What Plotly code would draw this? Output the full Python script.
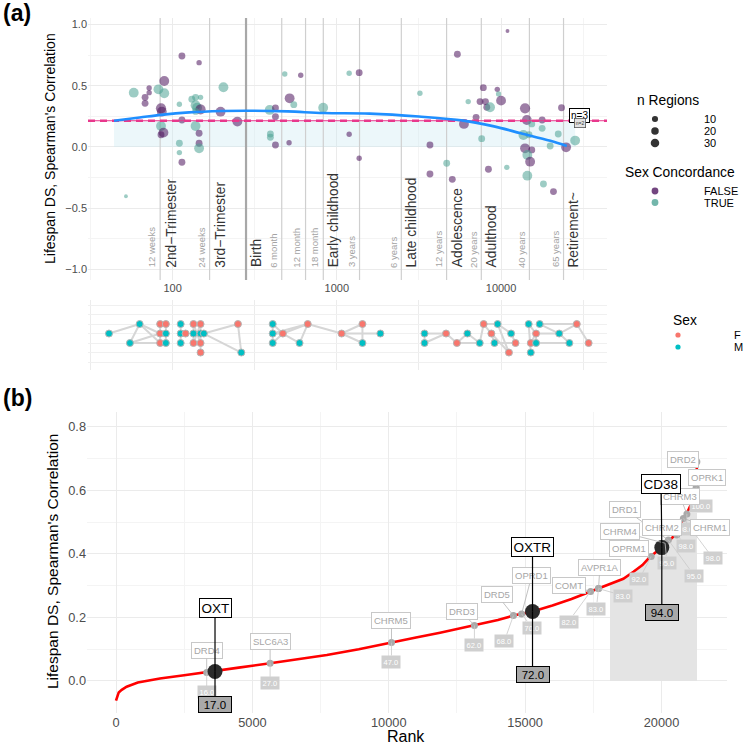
import numpy as np
import plotly.graph_objects as go

W = H = 745
def PX(x): return x / W
def PY(y): return 1 - y / H

FONT = "Liberation Sans, Arial, Helvetica, sans-serif"

# ---------------- Panel (a): lifespan scatter ----------------
age_days = [114, 145, 89, 58, 72, 72, 68, 68, 82, 89, 110, 85, 86, 85, 88, 85, 114, 110, 110, 114,
            131, 138, 148, 138, 141, 148, 138, 138, 145, 145, 145, 196, 204, 248, 52,
            482, 603, 516, 547, 390, 423, 423, 394, 394, 423, 512, 826, 1189, 1368, 1189, 1368, 3206, 3690, 3690,
            5420, 10940, 4667, 5047, 6310, 7798, 7447, 8035, 8185, 8570, 9484, 9661, 10000, 7047, 5943, 7621, 8375, 10839,
            13996, 14355, 13677, 15382, 14791, 13996, 15382, 14454, 15031, 14454, 17783, 17783, 22284, 23335, 19907,
            24889, 28249, 18113, 20845]
rho = [0.742, 0.688, 0.538, 0.443, 0.481, 0.443, 0.405, 0.356, 0.470, 0.438, 0.348, 0.315, 0.288, 0.171, 0.117,
       0.100, 0.220, 0.030, -0.046, -0.125, 0.390, 0.405, 0.405, 0.340, 0.320, 0.307, 0.290, 0.171, 0.112, 0.030,
       -0.011, 0.288, 0.487, 0.207, -0.402,
       0.595, 0.585, 0.397, 0.345, 0.302, 0.318, 0.247, 0.106, 0.079, 0.016, 0.035, 0.320, 0.601, 0.606, 0.104,
       -0.092, 0.438, 0.016, -0.220,
       0.756, 0.946, -0.133, -0.264, 0.370, 0.484, 0.370, 0.370, 0.324, 0.324, 0.470, 0.432, 0.378, 0.242, 0.188,
       0.068, -0.182, -0.166, 0.315, 0.220, 0.098, 0.188, 0.100, -0.011, -0.024, -0.065, -0.120, -0.234, 0.220,
       0.152, 0.106, 0.320, 0.008, -0.003, 0.052, -0.302, -0.364]
n_regions = [15, 6, 45, 45, 6, 6, 15, 15, 45, 45, 6, 50, 45, 45, 45, 15, 15, 15, 6, 15, 15, 15, 6, 45, 45, 50, 15,
             45, 15, 15, 45, 45, 45, 45, 1,
             6, 6, 45, 15, 45, 15, 15, 15, 15, 15, 6, 45, 6, 15, 6, 6, 6, 15, 15,
             15, 1, 15, 15, 6, 15, 15, 15, 15, 45, 6, 6, 45, 15, 45, 15, 15, 6, 50, 45, 45, 15, 15, 45, 15, 45, 45,
             45, 15, 15, 15, 15, 15, 45, 45, 15, 15]
sex_concordance = [False, False, False, True, False, False, False, False, True, True, True, False, False, True, False,
                   False, False, True, True, False, True, True, True, True, True, False, True, True, False, False,
                   True, False, True, False, True,
                   True, False, False, True, True, False, False, True, True, False, False, True, True, False, False,
                   False, True, False, False,
                   False, False, True, False, True, False, False, False, False, True, False, True, False, False, False,
                   True, False, True, False, False, True, True, True, False, False, True, False, True, False, True,
                   True, False, True, False, True, True, False]

# loess fit
fit_days = [44, 63, 85, 126, 200, 282, 501, 832, 1585, 3162, 5888, 8913, 13183, 19953, 25119]
fit_rho = [0.214, 0.240, 0.262, 0.282, 0.293, 0.296, 0.290, 0.277, 0.272, 0.248, 0.215, 0.170, 0.112, 0.050, 0.008]
mean_rho = 0.214
band_days = [44, 28249]

# developmental milestones
mark_days = [84, 168, 280, 462, 645, 827, 1375, 2470, 4660, 7580, 14880, 24005]
mark_labels = ["12 weeks", "24 weeks", "", "6 month", "12 month", "18 month", "3 years", "6 years",
               "12 years", "20 years", "40 years", "65 years"]
stage_names = ["2nd\u2212Trimester", "3rd\u2212Trimester", "Birth", "Early childhood", "Late childhood",
               "Adolescence", "Adulthood", "Retirement~"]
stage_days = [84, 168, 280, 827, 2470, 4660, 7580, 24005]

# ---------------- strip (sex) ----------------
strip_days = [41, 63, 55, 84, 84, 84, 91, 91, 91, 112, 112, 112, 120, 134, 134, 134, 148, 148, 148, 148, 155,
              250, 262, 407, 407, 407, 469, 665, 593, 1069, 1432, 1432, 1841, 3420, 3420, 4624, 5383, 6237, 7413,
              7834, 8730, 9120, 9528, 11169, 11508, 12246, 14723, 15171, 15171, 16331, 16331, 17179, 22594, 26062,
              28907, 34119]
strip_row = [3, 4, 2, 4, 3, 2, 4, 3, 2, 4, 3, 2, 3, 4, 3, 2, 4, 3, 2, 1, 3, 4, 1, 4, 3, 2, 3, 4, 2, 3, 4, 2, 3, 3,
             2, 3, 2, 3, 2, 4, 3, 2, 4, 1, 3, 2, 4, 2, 1, 3, 2, 4, 3, 2, 4, 2]
strip_sex = ["M", "M", "M", "F", "F", "F", "F", "M", "M", "M", "M", "M", "F", "F", "M", "F", "F", "M", "F", "F",
             "M", "F", "M", "M", "M", "M", "F", "F", "M", "F", "F", "M", "M", "M", "M", "F", "F", "M", "M", "F",
             "F", "M", "M", "F", "M", "F", "M", "F", "M", "F", "M", "M", "M", "M", "F", "F"]
strip_links = [(0, 1), (1, 4), (1, 5), (1, 2), (2, 5), (2, 4), (3, 6), (4, 7), (5, 8), (3, 4), (4, 5), (6, 7),
               (7, 8), (9, 10), (10, 11), (10, 12), (13, 14), (14, 15), (16, 17), (17, 18), (18, 19), (13, 18),
               (16, 15), (14, 20), (17, 20), (20, 21), (20, 22), (21, 22), (23, 24), (24, 25), (23, 26), (24, 26),
               (25, 26), (26, 27), (26, 28), (24, 27), (27, 28), (27, 29), (29, 30), (29, 31), (29, 32), (30, 31),
               (33, 34), (33, 35), (34, 35), (35, 36), (36, 37), (37, 38), (36, 38), (38, 39), (39, 42), (39, 40),
               (40, 41), (40, 43), (42, 44), (42, 43), (41, 45), (44, 45), (46, 48), (46, 49), (47, 49), (49, 50),
               (51, 54), (51, 52), (49, 52), (52, 53), (52, 54), (54, 55), (47, 53)]

# ---------------- Panel (b): rank curve ----------------
curve_rank = [0, 50, 100, 210, 390, 800, 1610, 2500, 3330, 4500, 5650, 6700, 7730, 8900, 10050, 11000, 11880,
              13140, 14000, 14570, 15270, 16000, 16700, 17400, 18110, 18600, 18970, 19300, 19580, 19800, 20010,
              20250, 20440, 20650, 20800, 20930, 21050, 21150, 21230, 21270, 21290, 21300]
curve_rho = [-0.062, -0.045, -0.036, -0.028, -0.018, -0.005, 0.008, 0.018, 0.027, 0.042, 0.056, 0.069, 0.082,
             0.100, 0.121, 0.137, 0.152, 0.175, 0.192, 0.206, 0.219, 0.238, 0.258, 0.282, 0.305, 0.322, 0.344,
             0.365, 0.391, 0.405, 0.420, 0.440, 0.455, 0.485, 0.512, 0.528, 0.550, 0.570, 0.595, 0.610, 0.650, 0.720]
top_start_rank = 18110
top_cap = 0.53

genes = ["DRD4", "OXT", "SLC6A3", "CHRM5", "DRD3", "DRD5", "OPRD1", "OXTR", "COMT", "AVPR1A", "", "OPRM1",
         "CD38", "CHRM4", "DRD1", "CHRM2", "CHRM1", "CHRM3", "OPRK1", "DRD2"]
gene_rank = [3325, 3630, 5650, 10100, 13140, 14570, 14870, 15270, 17400, 17690, 17690, 19620, 20010, 20130,
             20250, 20560, 20800, 20930, 21270, 21295]
gene_rho = [0.027, 0.030, 0.056, 0.121, 0.175, 0.206, 0.211, 0.219, 0.282, 0.291, 0.291, 0.392, 0.420, 0.434,
            0.444, 0.460, 0.512, 0.526, 0.610, 0.690]
gene_pct = ["16.0", "17.0", "27.0", "47.0", "62.0", "68.0", "70.0", "72.0", "82.0", "83.0", "83.0", "92.0",
            "94.0", "95.0", "95.0", "98.0", "98.0", "98.0", "100.0", ""]
highlight = ["OXT", "OXTR", "CD38"]
label_rank = [3325, 3630, 5650, 10100, 12670, 13960, 15240, 15270, 16620, 17740, None, 18800, 19985, 18480,
              18665, 20010, 21760, 20680, 21660, 20800]
label_rho = [0.095, 0.230, 0.124, 0.190, 0.218, 0.272, 0.331, 0.421, 0.301, 0.358, None, 0.417, 0.620, 0.470,
             0.539, 0.484, 0.484, 0.580, 0.640, 0.696]
pct_rank = [3325, 3630, 5650, 10100, 13140, 14240, 15260, 15270, 16590, 17610, 18580, 19185, 20010, 20200,
            21200, 20915, 21890, 20915, 21430, None]
pct_rho = [-0.036, -0.075, -0.007, 0.060, 0.113, 0.126, 0.168, 0.019, 0.187, 0.228, 0.269, 0.321, 0.216, 0.373,
           0.332, 0.425, 0.386, 0.478, 0.552, None]

# ---------------- build figure ----------------
fig = go.Figure()
xr = [1.485, 4.645]
lg = lambda v: np.log10(np.asarray(v, dtype=float))

# band
fig.add_trace(go.Scatter(x=lg(band_days), y=[mean_rho, mean_rho], mode="lines", line=dict(width=0),
                         fill="tozeroy", fillcolor="rgba(200,232,242,0.35)", hoverinfo="skip",
                         xaxis="x", yaxis="y"))
# milestone lines
for d, lab in zip(mark_days, mark_labels):
    birth = (lab == "")
    fig.add_trace(go.Scatter(x=lg([d, d]), y=[-1.085, 1.052], mode="lines",
                             line=dict(color="#a8a8a8" if birth else "#cfcfcf", width=2.2 if birth else 1.2),
                             hoverinfo="skip", xaxis="x", yaxis="y"))
# points
def diam(n):
    return 2.8 + 1.05 * np.sqrt(np.asarray(n, dtype=float))
col_false = "rgba(76,18,92,0.78)"
col_true = "rgba(75,162,147,0.78)"
fig.add_trace(go.Scatter(x=lg(age_days), y=rho, mode="markers",
                         marker=dict(size=diam(n_regions),
                                     color=[col_true if c else col_false for c in sex_concordance],
                                     line=dict(width=0)),
                         xaxis="x", yaxis="y"))
# mean lines
fig.add_trace(go.Scatter(x=xr, y=[mean_rho, mean_rho], mode="lines", line=dict(color="#e8388c", width=1),
                         xaxis="x", yaxis="y", hoverinfo="skip"))
fig.add_trace(go.Scatter(x=xr, y=[mean_rho, mean_rho], mode="lines",
                         line=dict(color="#e8388c", width=2.6, dash="7px,5px"),
                         xaxis="x", yaxis="y", hoverinfo="skip"))
# loess
fig.add_trace(go.Scatter(x=lg(fit_days), y=fit_rho, mode="lines", line=dict(color="#1f8fff", width=2.6, shape="spline"),
                         xaxis="x", yaxis="y", hoverinfo="skip"))

# strip links
lx, ly = [], []
sx = lg(strip_days)
for a, b in strip_links:
    lx += [sx[a], sx[b], None]
    ly += [strip_row[a], strip_row[b], None]
fig.add_trace(go.Scatter(x=lx, y=ly, mode="lines", line=dict(color="#d6d6d6", width=2),
                         xaxis="x2", yaxis="y2", hoverinfo="skip"))
fig.add_trace(go.Scatter(x=sx, y=strip_row, mode="markers",
                         marker=dict(size=7, color=["#F8766D" if s == "F" else "#00BFC4" for s in strip_sex],
                                     line=dict(color="#b5b5b5", width=1)),
                         xaxis="x2", yaxis="y2"))

# panel b
cr = np.array(curve_rank, dtype=float)
cv = np.array(curve_rho, dtype=float)
mask = cr >= top_start_rank
fig.add_trace(go.Scatter(x=cr[mask], y=np.minimum(cv[mask], top_cap), mode="lines", line=dict(width=0),
                         fill="tozeroy", fillcolor="#e4e4e4", xaxis="x3", yaxis="y3", hoverinfo="skip"))
fig.add_trace(go.Scatter(x=cr, y=cv, mode="lines", line=dict(color="#ff0000", width=2.6),
                         xaxis="x3", yaxis="y3", hoverinfo="skip"))
small_idx = [i for i, g in enumerate(genes) if g not in highlight]
big_idx = [i for i, g in enumerate(genes) if g in highlight]
fig.add_trace(go.Scatter(x=[gene_rank[i] for i in small_idx], y=[gene_rho[i] for i in small_idx], mode="markers",
                         marker=dict(size=7, color="#a9a9a9"), xaxis="x3", yaxis="y3"))

annotations = []
for i in small_idx:
    if pct_rank[i] is not None and gene_pct[i]:
        annotations.append(dict(x=gene_rank[i], y=gene_rho[i], ax=pct_rank[i], ay=pct_rho[i],
                                xref="x3", yref="y3", axref="x3", ayref="y3", text=gene_pct[i],
                                showarrow=True, arrowhead=0, arrowwidth=0.8, arrowcolor="#c9c9c9", standoff=0,
                                font=dict(size=7.5, color="white", family=FONT), bgcolor="#cfcfcf",
                                borderpad=1.5))
for i in small_idx:
    if label_rank[i] is not None and genes[i]:
        annotations.append(dict(x=gene_rank[i], y=gene_rho[i], ax=label_rank[i], ay=label_rho[i],
                                xref="x3", yref="y3", axref="x3", ayref="y3", text=genes[i],
                                showarrow=True, arrowhead=0, arrowwidth=0.8, arrowcolor="#b3b3b3", standoff=0,
                                font=dict(size=9.5, color="#a6a6a6", family=FONT), bgcolor="white",
                                bordercolor="#c8c8c8", borderwidth=1, borderpad=2))
fig.add_trace(go.Scatter(x=[gene_rank[i] for i in big_idx], y=[gene_rho[i] for i in big_idx], mode="markers",
                         marker=dict(size=15, color="#2b2b2b"), xaxis="x3", yaxis="y3"))
for i in big_idx:
    annotations.append(dict(x=gene_rank[i], y=gene_rho[i], ax=pct_rank[i], ay=pct_rho[i],
                            xref="x3", yref="y3", axref="x3", ayref="y3", text=" " + gene_pct[i] + " ",
                            showarrow=True, arrowhead=0, arrowwidth=1.2, arrowcolor="black", standoff=0,
                            font=dict(size=11.5, color="black", family=FONT), bgcolor="#a9a9a9",
                            bordercolor="black", borderwidth=1, borderpad=1.5))
    annotations.append(dict(x=gene_rank[i], y=gene_rho[i], ax=label_rank[i], ay=label_rho[i],
                            xref="x3", yref="y3", axref="x3", ayref="y3", text=genes[i],
                            showarrow=True, arrowhead=0, arrowwidth=1.2, arrowcolor="black", standoff=0,
                            font=dict(size=13.5, color="black", family=FONT), bgcolor="white",
                            bordercolor="black", borderwidth=1, borderpad=1.5))

# stage annotations (panel a)
for d, lab in zip(mark_days, mark_labels):
    if lab:
        annotations.append(dict(x=float(lg(d)), y=-1.0, xref="x", yref="y", text=lab, textangle=-90,
                                xanchor="right", yanchor="bottom", showarrow=False, xshift=-1,
                                font=dict(size=9.5, color="#a3a3a3", family=FONT)))
for d, lab in zip(stage_days, stage_names):
    annotations.append(dict(x=float(lg(d)), y=-1.0, xref="x", yref="y", text=lab, textangle=-90,
                            xanchor="left", yanchor="bottom", showarrow=False, xshift=1,
                            font=dict(size=13.8, color="#333333", family=FONT)))
# n labels
annotations.append(dict(x=float(lg(30200)), y=0.253, xref="x", yref="y", text="n=3", showarrow=False,
                        font=dict(size=10, color="black", family=FONT), bgcolor="white",
                        bordercolor="black", borderwidth=1, borderpad=1))
annotations.append(dict(x=float(lg(30200)), y=0.192, xref="x", yref="y", text="n=2", showarrow=False,
                        font=dict(size=5, color="#333", family=FONT), bgcolor="#e2e2e2",
                        bordercolor="#555", borderwidth=0.8, borderpad=1))

def txt(x, y, t, size, color="black", xanchor="center", angle=0, bold=False):
    annotations.append(dict(x=PX(x), y=PY(y), xref="paper", yref="paper", text=("<b>%s</b>" % t) if bold else t,
                            showarrow=False, xanchor=xanchor, yanchor="middle", textangle=angle,
                            font=dict(size=size, color=color, family=FONT)))

txt(1, 13, "(a)", 23, xanchor="left", bold=True)
txt(1, 398, "(b)", 23, xanchor="left", bold=True)
txt(50, 149, "Lifespan DS, Spearman's Correlation", 14, angle=-90)
txt(52, 562, "Lifespan DS, Spearman's Correlation", 15.5, angle=-90)
txt(406, 736, "Rank", 16)

# legends
txt(635, 100, "n Regions", 13.8, xanchor="left")
shapes = []
leg_n = [10, 20, 30]
for k, n in enumerate(leg_n):
    yy = [119, 131, 143][k]
    r = diam(n) / 2
    shapes.append(dict(type="circle", xref="paper", yref="paper", x0=PX(655 - r), x1=PX(655 + r),
                       y0=PY(yy + r), y1=PY(yy - r), fillcolor="#333333", line=dict(width=0)))
    txt(702, yy, str(n), 11, xanchor="left")
txt(623, 172, "Sex Concordance", 13.8, xanchor="left")
for yy, c, lab in [(191, col_false, "FALSE"), (202.5, col_true, "TRUE")]:
    r = 3.4
    shapes.append(dict(type="circle", xref="paper", yref="paper", x0=PX(655 - r), x1=PX(655 + r),
                       y0=PY(yy + r), y1=PY(yy - r), fillcolor=c, line=dict(width=0)))
    txt(702, yy, lab, 11, xanchor="left")
txt(671, 320, "Sex", 13.8, xanchor="left")
for yy, c, lab in [(335, "#F8766D", "F"), (347, "#00BFC4", "M")]:
    r = 2.6
    shapes.append(dict(type="circle", xref="paper", yref="paper", x0=PX(678 - r), x1=PX(678 + r),
                       y0=PY(yy + r), y1=PY(yy - r), fillcolor=c, line=dict(width=0)))
    txt(732, yy, lab, 11, xanchor="left")

grid = "#ebebeb"
minor_grid = "#f4f4f4"
fig.update_layout(
    width=W, height=H, margin=dict(l=0, r=0, t=0, b=0), showlegend=False,
    paper_bgcolor="white", plot_bgcolor="rgba(0,0,0,0)",
    font=dict(family=FONT),
    xaxis=dict(domain=[PX(88), PX(607)], range=xr, tickvals=[2, 3, 4], ticktext=["100", "1000", "10000"],
               showgrid=True, gridcolor=grid, zeroline=False, ticks="", anchor="y",
               tickfont=dict(size=11, color="#4d4d4d"),
               minor=dict(tickvals=[1.5, 2.5, 3.5, 4.5], showgrid=True, gridcolor=minor_grid)),
    yaxis=dict(domain=[PY(280), PY(18)], range=[-1.085, 1.052], tickvals=[-1, -0.5, 0, 0.5, 1],
               tickformat=".1f", showgrid=True, gridcolor=grid, zeroline=False, ticks="", anchor="x",
               tickfont=dict(size=11, color="#4d4d4d"),
               minor=dict(tickvals=[-0.75, -0.25, 0.25, 0.75], showgrid=True, gridcolor=minor_grid)),
    xaxis2=dict(domain=[PX(88), PX(607)], range=xr, tickvals=[1.5, 2, 2.5, 3, 3.5, 4, 4.5],
                showticklabels=False, showgrid=True, gridcolor="#ececec", zeroline=False, ticks="", anchor="y2"),
    yaxis2=dict(domain=[PY(370), PY(300)], range=[-0.84, 6.53], dtick=1, showticklabels=False,
                showgrid=True, gridcolor="#f0f0f0", zeroline=False, ticks="", anchor="x2"),
    xaxis3=dict(domain=[PX(87), PX(727)], range=[-1063, 22400], tickvals=[0, 5000, 10000, 15000, 20000],
                tickformat="d", showgrid=True, gridcolor=grid, zeroline=False, ticks="", anchor="y3",
                tickfont=dict(size=12.8, color="#4d4d4d"),
                minor=dict(tickvals=[2500, 7500, 12500, 17500], showgrid=True, gridcolor=minor_grid)),
    yaxis3=dict(domain=[PY(713), PY(412)], range=[-0.1008, 0.847], tickvals=[0, 0.2, 0.4, 0.6, 0.8],
                tickformat=".1f", showgrid=True, gridcolor=grid, zeroline=False, ticks="", anchor="x3",
                tickfont=dict(size=12.8, color="#4d4d4d"),
                minor=dict(tickvals=[-0.1, 0.1, 0.3, 0.5, 0.7], showgrid=True, gridcolor=minor_grid)),
    annotations=annotations, shapes=shapes,
)

fig.write_html("out.html", config={"displayModeBar": False},
               post_script="document.body.style.margin='0px';document.body.style.padding='0px';")
